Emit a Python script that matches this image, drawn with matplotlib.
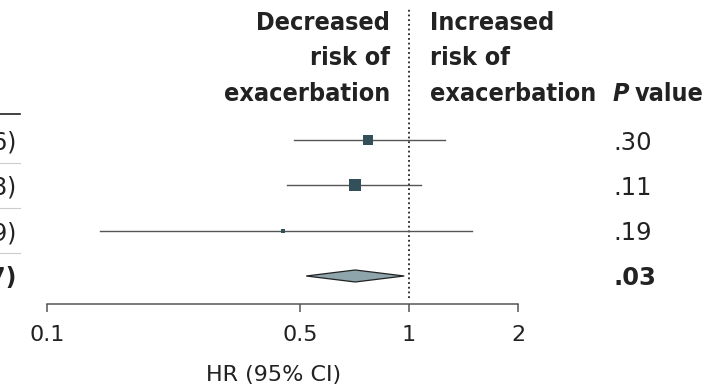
import numpy as np
import matplotlib
matplotlib.use('Agg')
import matplotlib.pyplot as plt
from matplotlib import transforms
from matplotlib.lines import Line2D

plt.rcParams['font.family'] = ['DejaVu Sans']

# hazard ratios with 95% CI, last row is the pooled estimate
hr = [0.77, 0.71, 0.45, 0.71]
ci_lo = [0.48, 0.46, 0.14, 0.52]
ci_hi = [1.26, 1.08, 1.49, 0.97]
p_vals = ['.30', '.11', '.19', '.03']
box_px = [10, 12, 4]  # square sizes for the individual rows

xticks = [0.1, 0.5, 1, 2]
xtick_labels = ['0.1', '0.5', '1', '2']
dec_header = ['Decreased', 'risk of', 'exacerbation']
inc_header = ['Increased', 'risk of', 'exacerbation']

W, H = 726, 390
dark = '#222222'
box_col = '#33505a'
diam_col = '#8ea5ac'
ci_col = '#555555'

fig = plt.figure(figsize=(W / 100, H / 100), dpi=100)

# plot panel: 0.1 at x=47px, 2 at x=518px, baseline at y=304px
ax = fig.add_axes([47 / W, 1 - 304 / H, 471 / W, 304 / H])
ax.set_xscale('log')
ax.set_xlim(0.1, 2)
row_px = 45.33
ax.set_ylim(164 / row_px, -140 / row_px)
ax.patch.set_visible(False)

for s in ['left', 'right', 'top']:
    ax.spines[s].set_visible(False)
ax.spines['bottom'].set_color('#555555')
ax.spines['bottom'].set_linewidth(1.1)
ax.set_yticks([])
ax.set_xticks(xticks)
ax.set_xticklabels(xtick_labels)
ax.xaxis.set_minor_locator(plt.NullLocator())
ax.tick_params(axis='x', direction='out', length=6, width=1.1, color='#555555',
               labelsize=16, labelcolor=dark, pad=9)

# line of no effect
ax.axvline(1, ymin=0.02, ymax=0.974, color='#222222', lw=1.3,
           linestyle=(0, (1, 1.6)), zorder=1)

n = len(hr)
for i in range(n - 1):
    ax.plot([ci_lo[i], ci_hi[i]], [i, i], color=ci_col, lw=1.0, zorder=2)
    ax.plot(hr[i], i, marker='s', color=box_col, markersize=box_px[i] * 0.72,
            markeredgewidth=0, zorder=3)

# pooled estimate diamond
k = n - 1
hh = 6 / row_px
ax.fill([ci_lo[k], hr[k], ci_hi[k], hr[k]], [k, k - hh, k, k + hh],
        facecolor=diam_col, edgecolor=dark, lw=0.9, zorder=3)

# text columns
row_tr = transforms.blended_transform_factory(fig.transFigure, ax.transData)
for i in range(n):
    bold = 'bold' if i == n - 1 else 'normal'
    label = '{:.2f} ({:.2f}-{:.2f})'.format(hr[i], ci_lo[i], ci_hi[i])
    ax.text(16 / W, i, label, transform=row_tr, ha='right', va='center_baseline',
            fontsize=17, color=dark, fontweight=bold)
    ax.text(613 / W, i, p_vals[i], transform=row_tr, ha='left', va='center_baseline',
            fontsize=17.5, color=dark, fontweight=bold)

# row rules at the left edge
for y, c, lw in [(-0.57, dark, 1.2), (0.5, '#cccccc', 0.8), (1.5, '#cccccc', 0.8),
                 (2.5, '#cccccc', 0.8)]:
    ax.add_line(Line2D([0, 20 / W], [y, y], transform=row_tr, color=c, lw=lw,
                       clip_on=False))

# column headers
baselines = [30, 65, 101]
for j, yb in enumerate(baselines):
    fig.text(390 / W, 1 - yb / H, dec_header[j], ha='right', va='baseline',
             fontsize=18, fontweight='bold', fontstretch='condensed', color=dark)
    fig.text(430 / W, 1 - yb / H, inc_header[j], ha='left', va='baseline',
             fontsize=18, fontweight='bold', fontstretch='condensed', color=dark)
fig.text(613 / W, 1 - 101 / H, 'P', ha='left', va='baseline', fontsize=18,
         fontweight='bold', fontstyle='italic', fontstretch='condensed', color=dark)
fig.text(635 / W, 1 - 101 / H, 'value', ha='left', va='baseline', fontsize=18,
         fontweight='bold', fontstretch='condensed', color=dark)

fig.text(274 / W, 1 - 375 / H, 'HR (95% CI)', ha='center', va='center',
         fontsize=16, color=dark)

fig.savefig('out.png', dpi=100)
